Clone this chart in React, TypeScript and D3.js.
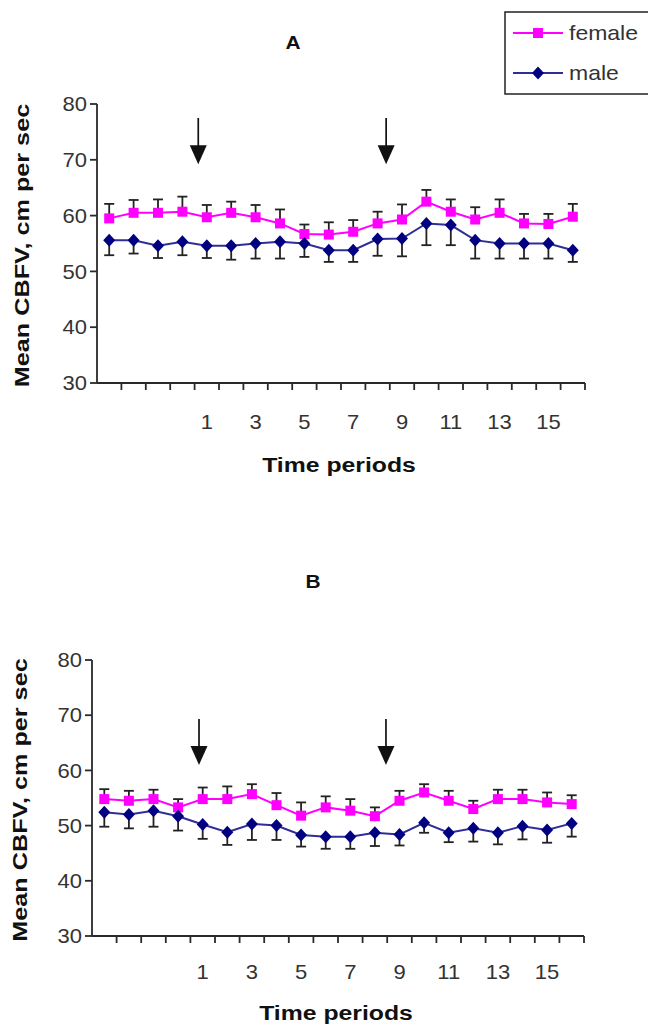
import React from "react";
import { scaleBand, scaleLinear, line } from "d3";

// categories: 4 baseline slots without label, then periods 1..16
const categories = ["", "", "", "", "1", "2", "3", "4", "5", "6", "7", "8", "9", "10", "11", "12", "13", "14", "15", "16"];
const yTicks = [30, 40, 50, 60, 70, 80];

// panel A
const femaleA = [59.5, 60.5, 60.5, 60.7, 59.7, 60.5, 59.7, 58.6, 56.7, 56.6, 57.1, 58.6, 59.3, 62.5, 60.7, 59.3, 60.5, 58.6, 58.5, 59.8];
const femaleErrA = [2.6, 2.3, 2.4, 2.7, 2.2, 2.0, 2.2, 2.5, 1.7, 2.2, 2.1, 2.1, 2.7, 2.1, 2.2, 2.2, 2.4, 1.7, 1.8, 2.3];
const maleA = [55.6, 55.6, 54.6, 55.3, 54.6, 54.6, 55.0, 55.3, 55.0, 53.8, 53.8, 55.8, 55.9, 58.6, 58.3, 55.6, 55.0, 55.0, 55.0, 53.8];
const maleErrA = [2.7, 2.4, 2.2, 2.4, 2.2, 2.5, 2.7, 3.0, 2.4, 2.1, 2.1, 3.0, 3.2, 3.9, 3.6, 3.3, 2.7, 2.7, 2.7, 2.1];

// panel B
const femaleB = [54.8, 54.5, 54.8, 53.3, 54.8, 54.8, 55.7, 53.7, 51.8, 53.3, 52.7, 51.7, 54.5, 56.0, 54.5, 53.0, 54.8, 54.8, 54.2, 53.9];
const femaleErrB = [1.8, 1.8, 1.7, 1.5, 2.1, 2.3, 1.8, 2.2, 2.4, 2.0, 2.1, 1.6, 1.8, 1.5, 1.8, 1.5, 1.7, 1.7, 1.8, 1.6];
const maleB = [52.4, 52.0, 52.7, 51.7, 50.2, 48.8, 50.3, 50.0, 48.3, 48.0, 48.0, 48.7, 48.4, 50.5, 48.7, 49.5, 48.7, 49.9, 49.2, 50.4];
const maleErrB = [2.6, 2.5, 2.9, 2.6, 2.6, 2.3, 2.9, 2.6, 2.1, 2.2, 2.2, 2.4, 2.0, 1.8, 1.7, 2.4, 2.1, 2.4, 2.3, 2.4];

// arrows: position in category units, top / tip in data units
const arrowsA = [4.15, 11.85];
const arrowsB = [4.35, 11.95];
const arrowSpanA = [77.5, 69.2];
const arrowSpanB = [69.3, 61.0];

const FEMALE = "#ff00ff";
const MALE_LINE = "#2e2e96";
const MALE_MARK = "#000080";
const INK = "#2a2a2a";
const FONT = "'Liberation Sans', Arial, sans-serif";

type PanelProps = {
  title: string;
  female: number[];
  femaleErr: number[];
  male: number[];
  maleErr: number[];
  arrows: number[];
  arrowSpan: number[];
  left: number;
  right: number;
  top: number;
  bottom: number;
  titleX: number;
  titleY: number;
  labelY: number;
  xTitleY: number;
  yTitleX: number;
};

function Panel(p: PanelProps) {
  const x = scaleBand<number>()
    .domain(categories.map((_, i) => i))
    .range([p.left, p.right])
    .padding(0);
  const bw = x.bandwidth();
  const cx = (i: number) => (x(i) as number) + bw / 2;
  const y = scaleLinear().domain([30, 80]).range([p.bottom, p.top]);
  const u = scaleLinear().domain([0, categories.length]).range([p.left, p.right]);

  const path = line<number>()
    .x((_, i) => cx(i))
    .y((d) => y(d));

  const cap = 5;

  return (
    <g>
      <text
        transform={`translate(${p.titleX},${p.titleY}) scale(1.1,1)`}
        textAnchor="middle"
        dominantBaseline="middle"
        fontFamily={FONT}
        fontWeight="bold"
        fontSize={19}
        fill="#111"
      >
        {p.title}
      </text>

      {/* arrows */}
      {p.arrows.map((a, k) => {
        const ax = u(a);
        const y0 = y(p.arrowSpan[0]);
        const y1 = y(p.arrowSpan[1]);
        const hh = 19;
        return (
          <g key={"ar" + k}>
            <line x1={ax} x2={ax} y1={y0} y2={y1 - hh + 2} stroke="#111" strokeWidth={1.7} />
            <polygon points={`${ax - 8.5},${y1 - hh} ${ax + 8.5},${y1 - hh} ${ax},${y1}`} fill="#111" />
          </g>
        );
      })}

      {/* y axis */}
      <line x1={p.left} x2={p.left} y1={p.top} y2={p.bottom} stroke={INK} strokeWidth={1.8} />
      {yTicks.map((t) => (
        <g key={"yt" + t}>
          <line x1={p.left - 7} x2={p.left} y1={y(t)} y2={y(t)} stroke={INK} strokeWidth={1.8} />
          <text
            transform={`translate(${p.left - 10},${y(t)}) scale(1.1,1)`}
            textAnchor="end"
            dominantBaseline="central"
            fontFamily={FONT}
            fontSize={20}
            fill="#333"
          >
            {t}
          </text>
        </g>
      ))}

      {/* x axis */}
      <line x1={p.left} x2={p.right} y1={p.bottom} y2={p.bottom} stroke={INK} strokeWidth={1.8} />
      {categories.map((_, i) => (
        <line
          key={"xt" + i}
          x1={(x(i) as number) + bw}
          x2={(x(i) as number) + bw}
          y1={p.bottom}
          y2={p.bottom + 7}
          stroke={INK}
          strokeWidth={1.8}
        />
      ))}
      {categories.map((c, i) =>
        i % 2 === 0 && c !== "" ? (
          <text
            key={"xl" + i}
            transform={`translate(${cx(i)},${p.labelY}) scale(1.1,1)`}
            textAnchor="middle"
            dominantBaseline="central"
            fontFamily={FONT}
            fontSize={20}
            fill="#333"
          >
            {c}
          </text>
        ) : null
      )}

      <text
        transform={`translate(${(p.left + p.right) / 2 - 2},${p.xTitleY}) scale(1.18,1)`}
        textAnchor="middle"
        dominantBaseline="central"
        fontFamily={FONT}
        fontWeight="bold"
        fontSize={21}
        fill="#111"
      >
        Time periods
      </text>
      <text
        transform={`translate(${p.yTitleX},${(p.top + p.bottom) / 2 + 2}) rotate(-90) scale(1.2,1)`}
        textAnchor="middle"
        dominantBaseline="central"
        fontFamily={FONT}
        fontWeight="bold"
        fontSize={21}
        fill="#111"
      >
        Mean CBFV, cm per sec
      </text>

      {/* error bars: female plus, male minus */}
      {p.female.map((v, i) => (
        <g key={"fe" + i} stroke="#222" strokeWidth={1.8}>
          <line x1={cx(i)} x2={cx(i)} y1={y(v)} y2={y(v + p.femaleErr[i])} />
          <line x1={cx(i) - cap} x2={cx(i) + cap} y1={y(v + p.femaleErr[i])} y2={y(v + p.femaleErr[i])} />
        </g>
      ))}
      {p.male.map((v, i) => (
        <g key={"me" + i} stroke="#222" strokeWidth={1.8}>
          <line x1={cx(i)} x2={cx(i)} y1={y(v)} y2={y(v - p.maleErr[i])} />
          <line x1={cx(i) - cap} x2={cx(i) + cap} y1={y(v - p.maleErr[i])} y2={y(v - p.maleErr[i])} />
        </g>
      ))}

      {/* series */}
      <path d={path(p.female) || ""} fill="none" stroke={FEMALE} strokeWidth={2} />
      <path d={path(p.male) || ""} fill="none" stroke={MALE_LINE} strokeWidth={2} />
      {p.female.map((v, i) => (
        <rect key={"fm" + i} x={cx(i) - 5} y={y(v) - 5} width={10} height={10} fill={FEMALE} />
      ))}
      {p.male.map((v, i) => (
        <polygon
          key={"mm" + i}
          points={`${cx(i)},${y(v) - 6.5} ${cx(i) + 6},${y(v)} ${cx(i)},${y(v) + 6.5} ${cx(i) - 6},${y(v)}`}
          fill={MALE_MARK}
        />
      ))}
    </g>
  );
}

function Legend() {
  const items = [
    { name: "female", color: FEMALE, mark: "square", yy: 33 },
    { name: "male", color: MALE_LINE, mark: "diamond", yy: 73 },
  ];
  return (
    <g>
      <rect x={505} y={12} width={160} height={82} fill="#fff" stroke="#222" strokeWidth={1.5} />
      {items.map((it) => (
        <g key={it.name}>
          <line x1={513} x2={563} y1={it.yy} y2={it.yy} stroke={it.color} strokeWidth={2} />
          {it.mark === "square" ? (
            <rect x={533} y={it.yy - 5} width={10} height={10} fill={FEMALE} />
          ) : (
            <polygon
              points={`538,${it.yy - 6.5} 544,${it.yy} 538,${it.yy + 6.5} 532,${it.yy}`}
              fill={MALE_MARK}
            />
          )}
          <text
            transform={`translate(569,${it.yy}) scale(1.15,1)`}
            dominantBaseline="central"
            fontFamily={FONT}
            fontSize={20}
            fill="#333"
          >
            {it.name}
          </text>
        </g>
      ))}
    </g>
  );
}

export default function App() {
  return (
    <svg
      width={648}
      height={1028}
      style={{ position: "absolute", left: 0, top: 0, background: "#fff" }}
    >
      <rect width={648} height={1028} fill="#fff" />
      <Panel
        title="A"
        female={femaleA}
        femaleErr={femaleErrA}
        male={maleA}
        maleErr={maleErrA}
        arrows={arrowsA}
        arrowSpan={arrowSpanA}
        left={97}
        right={585}
        top={104}
        bottom={383}
        titleX={293}
        titleY={44}
        labelY={422}
        xTitleY={465}
        yTitleX={22}
      />
      <Panel
        title="B"
        female={femaleB}
        femaleErr={femaleErrB}
        male={maleB}
        maleErr={maleErrB}
        arrows={arrowsB}
        arrowSpan={arrowSpanB}
        left={92}
        right={584}
        top={660}
        bottom={936}
        titleX={313}
        titleY={583}
        labelY={972}
        xTitleY={1013}
        yTitleX={20}
      />
      <Legend />
    </svg>
  );
}
